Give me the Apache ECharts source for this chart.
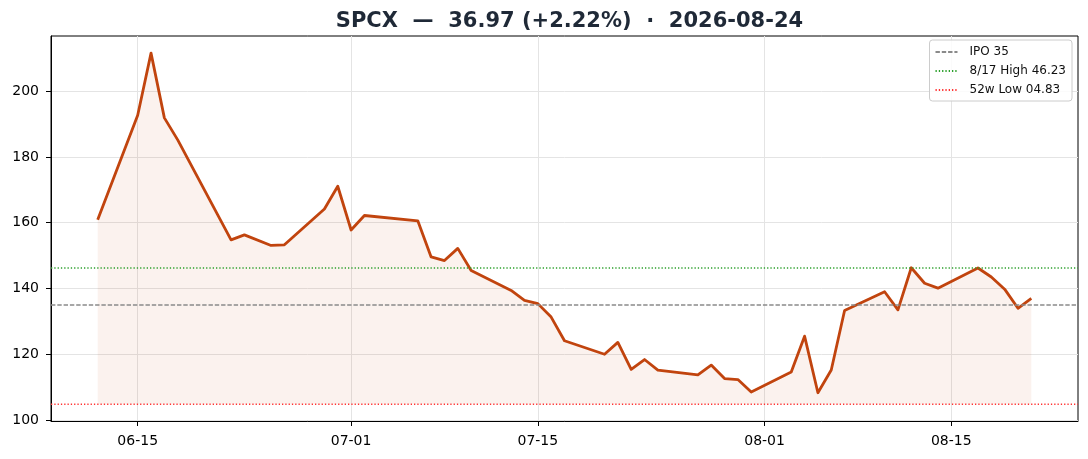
<!DOCTYPE html>
<html>
<head>
<meta charset="utf-8">
<script src="https://cdn.jsdelivr.net/npm/echarts@6/dist/echarts.min.js"></script>
<style>
html,body{margin:0;padding:0;background:#fff;}
#c{width:1088px;height:459px;}
</style>
</head>
<body>
<div id="c"></div>
<script>
// ---- data ----
var dates = [
  "2026-06-12","2026-06-15","2026-06-16","2026-06-17","2026-06-18","2026-06-22","2026-06-23","2026-06-25","2026-06-26",
  "2026-06-29","2026-06-30","2026-07-01","2026-07-02","2026-07-06","2026-07-07","2026-07-08","2026-07-09","2026-07-10",
  "2026-07-13","2026-07-14","2026-07-15","2026-07-16","2026-07-17","2026-07-20","2026-07-21","2026-07-22","2026-07-23",
  "2026-07-24","2026-07-27","2026-07-28","2026-07-29","2026-07-30","2026-07-31","2026-08-03","2026-08-04","2026-08-05",
  "2026-08-06","2026-08-07","2026-08-10","2026-08-11","2026-08-12","2026-08-13","2026-08-14","2026-08-17","2026-08-18",
  "2026-08-19","2026-08-20","2026-08-21"
];
var closes = [
  160.9,192.7,211.6,191.9,185.2,154.8,156.3,153.1,153.3,
  164.2,171.1,157.8,162.2,160.6,149.6,148.5,152.2,145.5,
  139.4,136.4,135.4,131.3,124.1,120.0,123.6,115.4,118.4,
  115.2,113.7,116.7,112.6,112.3,108.5,114.6,125.5,108.3,
  115.2,133.3,139.0,133.5,146.3,141.6,140.1,146.23,143.5,
  139.8,133.99,136.97
];
var refNames = ["IPO 35", "8/17 High 46.23", "52w Low 04.83"];
var refValues = [135, 146.23, 104.83];
var xTickDates = ["2026-06-15","2026-07-01","2026-07-15","2026-08-01","2026-08-15"];
var yTicks = [100,120,140,160,180,200];
var titleText = "SPCX  \u2014  36.97 (+2.22%)  \u00b7  2026-08-24";
var xRange = ["2026-06-08T12:00:00Z","2026-08-24T12:00:00Z"];
var yRange = [99.7, 216.8];

// ---- build ----
function ts(s){ return s.length > 10 ? Date.parse(s) : Date.parse(s + "T00:00:00Z"); }
function pad(n){ return (n < 10 ? "0" : "") + n; }
var xMin = ts(xRange[0]), xMax = ts(xRange[1]);
var mainData = dates.map(function(d,i){ return [ts(d), closes[i]]; });
var refColors = ["#8a8a8a", "#2ca02c", "#ff3333"];
var refTypes = [[4.4,1.9],[1.3,2.0],[1.3,2.0]];
var FONT = "DejaVu Sans";

var series = [{
  name: "SPCX",
  type: "line",
  data: mainData,
  symbol: "none",
  z: 3,
  lineStyle: {color: "#c1440e", width: 2.8, join: "round"},
  itemStyle: {color: "#c1440e"},
  areaStyle: {color: "rgba(193,68,14,0.10)", origin: refValues[2]},
  animation: false
}];
refNames.forEach(function(n,i){
  series.push({
    name: n,
    type: "line",
    data: [[xMin, refValues[i]],[xMax, refValues[i]]],
    symbol: "none",
    z: 4,
    lineStyle: {color: refColors[i], width: 1.5, type: refTypes[i]},
    itemStyle: {color: refColors[i]},
    animation: false
  });
});

var chart = echarts.init(document.getElementById("c"), null, {renderer: "canvas"});
chart.setOption({
  animation: false,
  backgroundColor: "#ffffff",
  title: {
    text: titleText,
    left: 564.5,
    textAlign: "center",
    top: 6,
    textStyle: {fontFamily: FONT, fontSize: 21, fontWeight: "bold", color: "#1f2937"}
  },
  legend: {
    data: refNames,
    orient: "vertical",
    right: 16,
    top: 40,
    itemWidth: 22,
    itemHeight: 12,
    itemGap: 7,
    padding: [6,6,5,5],
    itemStyle: {color: "rgba(0,0,0,0)", borderWidth: 0, opacity: 0},
    backgroundColor: "rgba(255,255,255,0.85)",
    borderColor: "#cccccc",
    borderWidth: 1,
    borderRadius: 3,
    textStyle: {fontFamily: FONT, fontSize: 12, color: "#111", padding: [0,0,0,7]}
  },
  grid: {
    left: 51, right: 10, top: 36, bottom: 38,
    show: true, borderColor: "#000", borderWidth: 1,
    containLabel: false
  },
  xAxis: {
    type: "value",
    min: xMin, max: xMax,
    axisLine: {show: true, lineStyle: {color: "#000", width: 1}},
    axisTick: {show: true, length: 5, lineStyle: {color: "#000"}, customValues: xTickDates.map(ts)},
    axisLabel: {
      customValues: xTickDates.map(ts),
      margin: 13,
      fontFamily: FONT, fontSize: 14, color: "#000",
      formatter: function(v){ var d = new Date(v); return pad(d.getUTCMonth()+1) + "-" + pad(d.getUTCDate()); }
    },
    splitLine: {show: true, lineStyle: {color: "#e4e4e4", width: 1}}
  },
  yAxis: {
    type: "value",
    min: yRange[0], max: yRange[1],
    axisLine: {show: true, lineStyle: {color: "#000", width: 1}},
    axisTick: {show: true, length: 5, lineStyle: {color: "#000"}, customValues: yTicks},
    axisLabel: {customValues: yTicks, margin: 12, fontFamily: FONT, fontSize: 14, color: "#000"},
    splitLine: {show: true, lineStyle: {color: "#e4e4e4", width: 1}}
  },
  series: series
});
</script>
</body>
</html>
